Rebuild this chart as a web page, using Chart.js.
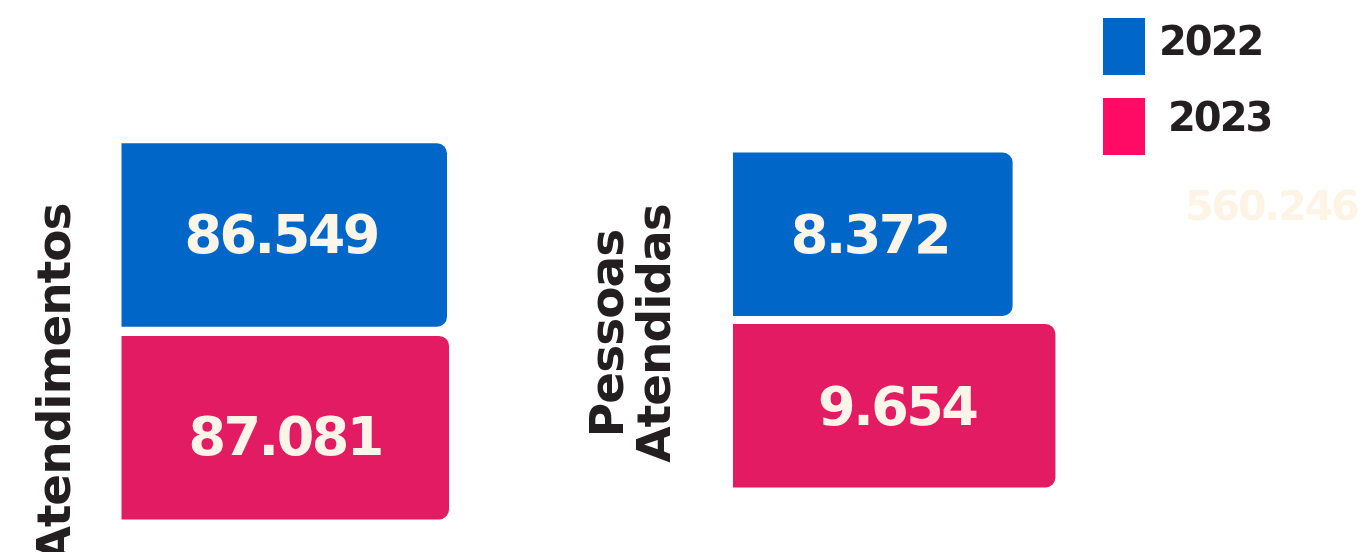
<!DOCTYPE html>
<html lang="pt-BR">
    <head>
        <meta charset="UTF-8" />
        <title>Atendimentos 2022 x 2023</title>
        <script src="https://cdn.jsdelivr.net/npm/chart.js"></script>
        <style>
            body {
                margin: 0;
                background: #fff;
            }
            .wrap {
                position: relative;
                width: 1361px;
                height: 552px;
                overflow: hidden;
            }
            .wrap canvas {
                position: absolute;
                left: 0;
                top: 0;
            }
        </style>
    </head>
    <body>
        <div class="wrap">
            <canvas id="chartAtend" width="1361" height="552"></canvas>
            <canvas id="chartPessoas" width="1361" height="552"></canvas>
        </div>
        <script>
            // dados
            const years = ["2022", "2023"];
            const atendimentos = [86549, 87081];
            const pessoas = [8372, 9654];
            const totalText = "560.246";

            const BLUE = "#0066c8";
            const PINK = "#e31b63";
            const LEGEND_COLORS = ["#0066c8", "#ff0a64"];
            const FONT = "'DejaVu Sans', Verdana, sans-serif";

            const fmt = (v) => String(v).replace(/\B(?=(\d{3})+(?!\d))/g, ".");

            // valor no meio de cada barra
            const valueLabels = {
                id: "valueLabels",
                afterDatasetsDraw(chart, args, opts) {
                    const ctx = chart.ctx;
                    const ds = chart.data.datasets[0];
                    const off = opts.offsets || [];
                    ctx.save();
                    ctx.font = "bold 54px " + FONT;
                    ctx.letterSpacing = "-2.5px";
                    ctx.fillStyle = "#fdf5e8";
                    ctx.textAlign = "center";
                    ctx.textBaseline = "alphabetic";
                    chart.getDatasetMeta(0).data.forEach((bar, i) => {
                        const [dx, dy] = off[i] || [0, 0];
                        const cx = (bar.base + bar.x) / 2;
                        ctx.fillText(fmt(ds.data[i]), cx + dx, bar.y + 20 + dy);
                    });
                    ctx.restore();
                },
            };

            // titulo vertical do grupo
            const sideLabel = {
                id: "sideLabel",
                afterDraw(chart, args, opts) {
                    if (!opts.lines) return;
                    const ctx = chart.ctx;
                    ctx.save();
                    ctx.font = "bold 47px " + FONT;
                    ctx.letterSpacing = "-1px";
                    ctx.fillStyle = "#231f20";
                    ctx.textAlign = "center";
                    ctx.textBaseline = "alphabetic";
                    ctx.translate(opts.x, opts.y);
                    ctx.rotate(-Math.PI / 2);
                    const n = opts.lines.length;
                    opts.lines.forEach((l, i) => {
                        ctx.fillText(l, 0, (i - (n - 1)) * 47);
                    });
                    ctx.restore();
                },
            };

            // legenda + total apagado
            const yearLegend = {
                id: "yearLegend",
                afterDraw(chart, args, opts) {
                    if (!opts.show) return;
                    const ctx = chart.ctx;
                    ctx.save();
                    ctx.font = "bold 40px " + FONT;
                    ctx.letterSpacing = "-2px";
                    ctx.textBaseline = "alphabetic";
                    chart.data.labels.forEach((year, i) => {
                        ctx.fillStyle = LEGEND_COLORS[i];
                        ctx.fillRect(1103, 18 + i * 80, 42, 57);
                        ctx.fillStyle = "#231f20";
                        ctx.fillText(year, i === 0 ? 1159 : 1168, 55 + i * 76);
                    });
                    ctx.font = "bold 41px " + FONT;
                    ctx.fillStyle = "#fdf4e6";
                    ctx.fillText(totalText, 1185, 220);
                    ctx.restore();
                },
            };

            function makeChart(id, values, max, padding, extra) {
                return new Chart(document.getElementById(id), {
                    type: "bar",
                    data: {
                        labels: years,
                        datasets: [
                            {
                                data: values,
                                backgroundColor: [BLUE, PINK],
                                borderRadius: 10,
                                barPercentage: 0.952,
                                categoryPercentage: 1,
                            },
                        ],
                    },
                    options: {
                        indexAxis: "y",
                        responsive: false,
                        animation: false,
                        layout: { padding },
                        scales: {
                            x: { display: false, min: 0, max },
                            y: { display: false },
                        },
                        plugins: Object.assign(
                            {
                                legend: { display: false },
                                tooltip: { enabled: false },
                            },
                            extra
                        ),
                    },
                    plugins: [valueLabels, sideLabel, yearLegend],
                });
            }

            makeChart(
                "chartAtend",
                atendimentos,
                90000,
                { left: 121.3, top: 138.6, right: 901, bottom: 28 },
                {
                    sideLabel: { lines: ["Atendimentos"], x: 70, y: 383 },
                    valueLabels: { offsets: [[-3, -2], [0, 7]] },
                }
            );

            makeChart(
                "chartPessoas",
                pessoas,
                10000,
                { left: 733, top: 148.5, right: 294, bottom: 60.5 },
                {
                    sideLabel: { lines: ["Pessoas", "Atendidas"], x: 670, y: 333.5 },
                    valueLabels: { offsets: [[-3, -1], [3, -1]] },
                    yearLegend: { show: true },
                }
            );
        </script>
    </body>
</html>
